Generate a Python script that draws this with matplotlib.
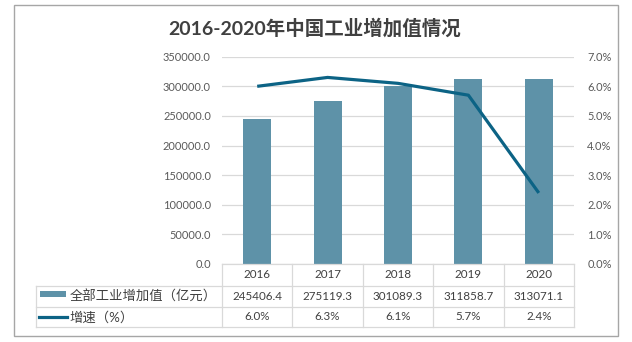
import matplotlib
matplotlib.use('Agg')
import matplotlib.pyplot as plt
from matplotlib.lines import Line2D
from matplotlib.patches import Rectangle
import matplotlib.transforms as mtransforms
from matplotlib.ticker import FuncFormatter, MultipleLocator

plt.rcParams['font.family'] = ['Lato', 'Noto Sans CJK SC', 'DejaVu Sans']

title = '2016-2020年中国工业增加值情况'
years = ['2016', '2017', '2018', '2019', '2020']
value_added = [245406.4, 275119.3, 301089.3, 311858.7, 313071.1]
growth = [6.0, 6.3, 6.1, 5.7, 2.4]
series_bar = '全部工业增加值（亿元）'
series_line = '增速（%）'

BAR = '#5E92A8'
LINE = '#0C6385'
GRID = '#D9D9D9'
TICK = '#595959'
TXT = '#404040'

W, H = 632, 342
fig = plt.figure(figsize=(W / 100, H / 100), dpi=100)


def fx(px):
    return px / W


def fy(py):
    return 1 - py / H


ax = fig.add_axes([fx(222), fy(264), fx(574) - fx(222), fy(56.7) - fy(264)])
x = list(range(len(years)))
ax.bar(x, value_added, width=0.4, color=BAR, zorder=2)
ax.set_xlim(-0.5, len(years) - 0.5)
ax.set_ylim(0, 350000)
ax.yaxis.set_major_locator(MultipleLocator(50000))
ax.yaxis.set_major_formatter(FuncFormatter(lambda v, p: f'{v:.1f}'))
ax.grid(axis='y', color=GRID, lw=0.9)
ax.set_axisbelow(True)
for s in ax.spines.values():
    s.set_visible(False)
ax.tick_params(length=0, labelcolor=TICK, labelsize=7.9, pad=8)
ax.set_xticks([])

ax2 = ax.twinx()
ax2.plot(x, growth, color=LINE, lw=2.3, solid_capstyle='butt', zorder=3)
ax2.set_ylim(0, 7)
ax2.yaxis.set_major_locator(MultipleLocator(1))
ax2.yaxis.set_major_formatter(FuncFormatter(lambda v, p: f'{v:.1f}%'))
for s in ax2.spines.values():
    s.set_visible(False)
ax2.tick_params(length=0, labelcolor=TICK, labelsize=7.9, pad=9.5)

# data table
trans = mtransforms.blended_transform_factory(ax.transData, fig.transFigure)
y_top, y_r1, y_r2, y_bot = 264, 285.7, 306.7, 327.3
lc = '#D9D9D9'
fig.add_artist(Line2D([-0.5, len(years) - 0.5], [fy(y_top)] * 2, transform=trans, color=lc, lw=0.9))
for yy in (y_r1, y_r2, y_bot):
    fig.add_artist(Line2D([fx(36), fx(574)], [fy(yy)] * 2, transform=fig.transFigure, color=lc, lw=0.9))
for i in range(len(years) + 1):
    fig.add_artist(Line2D([i - 0.5, i - 0.5], [fy(y_top), fy(y_bot)], transform=trans, color=lc, lw=0.9))
fig.add_artist(Line2D([fx(36), fx(36)], [fy(y_r1), fy(y_bot)], transform=fig.transFigure, color=lc, lw=0.9))

for i, yr in enumerate(years):
    fig.text(i, fy((y_top + y_r1) / 2), yr, transform=trans, ha='center', va='center', fontsize=8.4, color=TXT)
    fig.text(i, fy((y_r1 + y_r2) / 2), f'{value_added[i]:.1f}', transform=trans, ha='center', va='center', fontsize=8.4, color=TXT)
    fig.text(i, fy((y_r2 + y_bot) / 2), f'{growth[i]:.1f}%', transform=trans, ha='center', va='center', fontsize=8.4, color=TXT)

fig.add_artist(Rectangle((fx(40), fy(297)), fx(66) - fx(40), fy(291) - fy(297), transform=fig.transFigure, color=BAR, lw=0))
fig.add_artist(Line2D([fx(39), fx(67)], [fy(316.5)] * 2, transform=fig.transFigure, color=LINE, lw=2.3))
fig.text(fx(69.5), fy((y_r1 + y_r2) / 2), series_bar, ha='left', va='center', fontsize=9.6, color=TXT)
fig.text(fx(69.5), fy((y_r2 + y_bot) / 2), series_line, ha='left', va='center', fontsize=9.6, color=TXT)

# title
fig.text(fx(315), fy(35), title, ha='center', va='baseline', fontsize=14, weight='bold', color=TXT)

# chart border
fig.add_artist(Rectangle((fx(13.5), fy(335.5)), fx(618) - fx(13.5), fy(4.5) - fy(335.5),
                         transform=fig.transFigure, fill=False, ec='#A6A6A6', lw=1))

fig.savefig('out.png', dpi=100)
